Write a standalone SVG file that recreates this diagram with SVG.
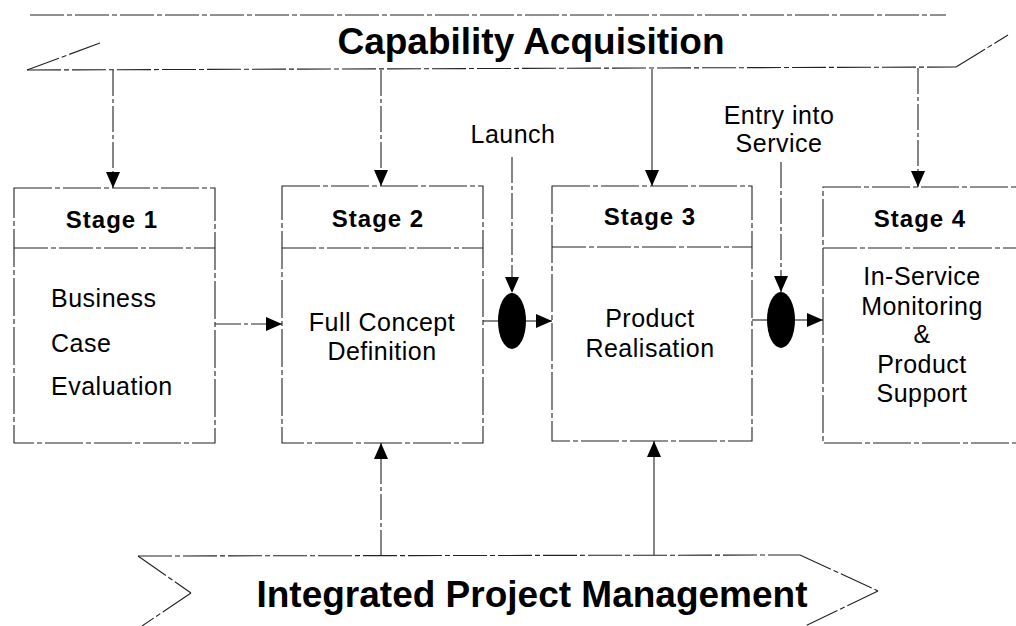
<svg xmlns="http://www.w3.org/2000/svg" width="1016" height="626" viewBox="0 0 1016 626">
  <style>
    .edge { fill: none; stroke: #222; stroke-width: 1.1; stroke-dasharray: 34 3 5 3; }
    .frame { fill: #fff; stroke: #222; stroke-width: 1.1; stroke-dasharray: 38 3 5 3; }
    .link { fill: none; stroke: #222; stroke-width: 1.1; stroke-dasharray: 26 3 4 3; }
    .solid { fill: none; stroke: #222; stroke-width: 1.1; }
    .banner { font-family: "Liberation Sans", Arial, sans-serif; font-weight: bold; font-size: 37px; fill: #000; text-anchor: middle; }
    .title { font-family: "Liberation Sans", Arial, sans-serif; font-weight: bold; font-size: 24px; letter-spacing: 1px; fill: #000; text-anchor: middle; }
    .body { font-family: "Liberation Sans", Arial, sans-serif; font-size: 25px; letter-spacing: 0.5px; fill: #000; }
    .mid { text-anchor: middle; }
    .gate { fill: #000; }
  </style>
  <defs>
    <marker id="arrow" markerUnits="userSpaceOnUse" markerWidth="17" markerHeight="14" refX="16" refY="7" orient="auto">
      <path d="M0,0 L16,7 L0,14 z" fill="#000"/>
    </marker>
  </defs>

  <rect width="1016" height="626" fill="#fff"/>

  <!-- Upper banner -->
  <g id="banner-acquisition">
    <line class="edge" x1="30" y1="15" x2="946" y2="15"/>
    <line class="edge" x1="27" y1="70" x2="956" y2="67"/>
    <line class="edge" x1="27" y1="70" x2="100" y2="43"/>
    <line class="edge" x1="956" y1="67" x2="1008" y2="35"/>
    <text class="banner" x="531" y="54">Capability Acquisition</text>
  </g>

  <!-- Stage boxes -->
  <g id="stage1">
    <rect class="frame" x="14" y="188" width="201" height="255"/>
    <line class="edge" x1="14" y1="248" x2="215" y2="248"/>
    <text class="title" x="112" y="228">Stage 1</text>
    <text class="body" x="51" y="307">Business</text>
    <text class="body" x="51" y="352">Case</text>
    <text class="body" x="51" y="395">Evaluation</text>
  </g>

  <g id="stage2">
    <rect class="frame" x="282" y="186" width="201" height="257"/>
    <line class="edge" x1="282" y1="248" x2="483" y2="248"/>
    <text class="title" x="378" y="227">Stage 2</text>
    <text class="body mid" x="382" y="331">Full Concept</text>
    <text class="body mid" x="382" y="360">Definition</text>
  </g>

  <g id="stage3">
    <rect class="frame" x="552" y="186" width="200" height="255"/>
    <line class="edge" x1="552" y1="247" x2="752" y2="247"/>
    <text class="title" x="650" y="225">Stage 3</text>
    <text class="body mid" x="650" y="327">Product</text>
    <text class="body mid" x="650" y="357">Realisation</text>
  </g>

  <g id="stage4">
    <rect class="frame" x="823" y="187" width="210" height="256"/>
    <line class="edge" x1="823" y1="248" x2="1016" y2="248"/>
    <text class="title" x="920" y="227">Stage 4</text>
    <text class="body mid" x="922" y="285">In-Service</text>
    <text class="body mid" x="922" y="315">Monitoring</text>
    <text class="body mid" x="922" y="343">&amp;</text>
    <text class="body mid" x="922" y="373">Product</text>
    <text class="body mid" x="922" y="402">Support</text>
  </g>

  <!-- Milestone gates -->
  <g id="gate-launch">
    <ellipse class="gate" cx="512" cy="321" rx="14" ry="28"/>
    <text class="body mid" x="513" y="143">Launch</text>
  </g>

  <g id="gate-service">
    <ellipse class="gate" cx="781" cy="320" rx="14" ry="28"/>
    <text class="body mid" x="779" y="124">Entry into</text>
    <text class="body mid" x="779" y="152">Service</text>
  </g>

  <!-- Lower banner -->
  <g id="banner-management">
    <line class="edge" x1="138" y1="556" x2="800" y2="555"/>
    <line class="edge" x1="138" y1="556" x2="191" y2="593"/>
    <line class="edge" x1="191" y1="593" x2="142" y2="626"/>
    <line class="edge" x1="800" y1="555" x2="878" y2="591"/>
    <line class="edge" x1="878" y1="591" x2="805" y2="626"/>
    <text class="banner" x="532" y="607">Integrated Project Management</text>
  </g>

  <!-- Connectors -->
  <g id="connectors">
    <line class="link" x1="113" y1="70" x2="113" y2="188" marker-end="url(#arrow)"/>
    <line class="link" x1="381" y1="70" x2="381" y2="186" marker-end="url(#arrow)"/>
    <line class="solid" x1="652" y1="69" x2="652" y2="186" marker-end="url(#arrow)"/>
    <line class="link" x1="918" y1="68" x2="918" y2="187" marker-end="url(#arrow)"/>

    <line class="link" x1="512" y1="157" x2="512" y2="293" marker-end="url(#arrow)"/>
    <line class="link" x1="781" y1="162" x2="781" y2="292" marker-end="url(#arrow)"/>

    <line class="link" x1="215" y1="324" x2="282" y2="324" marker-end="url(#arrow)"/>
    <line class="solid" x1="483" y1="321" x2="498" y2="321"/>
    <line class="link" x1="526" y1="321" x2="552" y2="321" marker-end="url(#arrow)"/>
    <line class="link" x1="752" y1="320" x2="767" y2="320"/>
    <line class="solid" x1="795" y1="320" x2="823" y2="320" marker-end="url(#arrow)"/>

    <line class="link" x1="381" y1="556" x2="381" y2="443" marker-end="url(#arrow)"/>
    <line class="solid" x1="654" y1="555" x2="654" y2="441" marker-end="url(#arrow)"/>
  </g>
</svg>
